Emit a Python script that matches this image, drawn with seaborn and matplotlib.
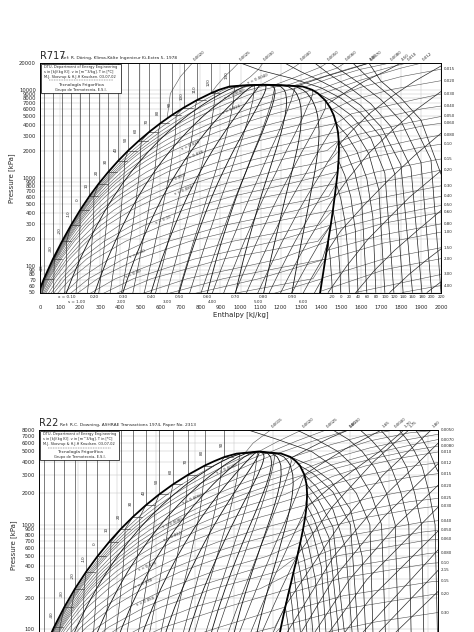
import numpy as np
import pandas as pd
import matplotlib
matplotlib.use("Agg")
import matplotlib.pyplot as plt
from matplotlib.patches import Rectangle
import seaborn as sns

# ---------------- R717 (ammonia) saturation table ----------------
nh3_T = [-50, -40, -30, -20, -10, 0, 10, 20, 30, 40, 50, 60, 70, 80, 90, 100, 110, 120, 125, 130, 131, 132, 132.3]
nh3_p = [40.8, 71.7, 119.5, 190.2, 290.7, 429.4, 615.1, 857.5, 1167, 1555, 2033, 2614, 3312, 4141, 5116,
         6255, 7574, 9094, 9930, 10828, 11010, 11230, 11333]
nh3_hf = [-24, 20, 64, 110, 155, 200, 246, 293, 341, 390, 440, 492, 545, 600, 657, 718, 782, 853, 893, 945, 985, 1035, 1119]
nh3_hg = [1391, 1408, 1423, 1437, 1450, 1461, 1470, 1478, 1485, 1489, 1491, 1490, 1486, 1477, 1465, 1447, 1422,
          1385, 1357, 1310, 1262, 1205, 1119]
nh3_sf = [0.10, 0.29, 0.47, 0.66, 0.83, 1.00, 1.17, 1.33, 1.49, 1.65, 1.81, 1.96, 2.12, 2.28, 2.44, 2.60, 2.77,
          2.96, 3.06, 3.19, 3.29, 3.42, 3.62]
nh3_sg = [6.44, 6.24, 6.06, 5.90, 5.75, 5.62, 5.49, 5.37, 5.26, 5.16, 5.06, 4.96, 4.86, 4.76, 4.66, 4.56, 4.44,
          4.31, 4.22, 4.09, 3.98, 3.84, 3.62]
nh3_vf = [0.00142, 0.00145, 0.00148, 0.00150, 0.00153, 0.00157, 0.00160, 0.00164, 0.00168, 0.00173, 0.00178,
          0.00183, 0.00190, 0.00198, 0.00207, 0.00218, 0.00231, 0.00250, 0.00263, 0.00285, 0.00290, 0.00330, 0.00425]
nh3_vg = [2.625, 1.552, 0.963, 0.624, 0.419, 0.290, 0.205, 0.149, 0.111, 0.0833, 0.0635, 0.0490, 0.0381, 0.0299,
          0.0236, 0.0187, 0.0147, 0.0114, 0.0098, 0.0077, 0.0070, 0.0056, 0.00425]

nh3_quality = [0.1, 0.2, 0.3, 0.4, 0.5, 0.6, 0.7, 0.8, 0.9]
nh3_dome_s = [0.25, 0.5, 0.75, 1.0, 1.25, 1.5, 1.75, 2.0, 2.25, 2.5, 2.75, 3.0, 3.25, 3.5, 3.75, 4.0, 4.25,
              4.5, 4.75, 5.0, 5.25, 5.5, 5.75, 6.0, 6.25]
nh3_dome_v = [0.0030, 0.0040, 0.0050, 0.0060, 0.0080, 0.010, 0.012, 0.015, 0.020, 0.025, 0.030, 0.040, 0.050,
              0.060, 0.080, 0.10, 0.12, 0.15, 0.20, 0.25, 0.30, 0.40, 0.50, 0.60, 0.80, 1.0, 1.2, 1.5, 2.0]
nh3_dome_v_lab = [0.0040, 0.0060, 0.010, 0.020, 0.030, 0.050, 0.080, 0.15, 0.30, 0.50, 0.80, 1.5]

# superheated isotherms (T, h list, p list)
nh3_sh_T = [-20, 0, 20, 40, 60, 80, 100, 120, 140, 160, 180, 200, 220, 240]
nh3_sh_T_h = [[1437, 1447, 1455, 1458],
              [1461, 1474, 1487, 1497, 1500],
              [1478, 1500, 1520, 1535, 1543],
              [1489, 1520, 1550, 1573, 1586],
              [1490, 1530, 1570, 1605, 1630],
              [1477, 1530, 1580, 1630, 1660, 1675],
              [1447, 1500, 1570, 1640, 1690, 1720],
              [1385, 1450, 1550, 1650, 1720, 1765],
              [1000, 1100, 1250, 1400, 1500, 1600, 1700, 1770, 1811],
              [1220, 1300, 1400, 1500, 1600, 1700, 1800, 1858],
              [1370, 1450, 1550, 1650, 1750, 1850, 1905],
              [1450, 1500, 1600, 1700, 1800, 1900, 1953],
              [1560, 1650, 1750, 1850, 1950, 2000],
              [1640, 1700, 1800, 1900, 2000]]
nh3_sh_T_p = [[190, 125, 70, 50],
              [429, 300, 175, 80, 50],
              [857, 580, 330, 150, 50],
              [1555, 1070, 610, 250, 50],
              [2614, 1880, 1150, 510, 50],
              [4141, 3050, 2010, 980, 360, 50],
              [6255, 5050, 3460, 1870, 730, 50],
              [9094, 7540, 5150, 2800, 1130, 50],
              [20000, 16500, 13500, 10500, 8000, 5400, 2900, 1100, 50],
              [20000, 16000, 12500, 9500, 6600, 3800, 1400, 50],
              [20000, 14500, 10300, 6900, 3800, 1300, 50],
              [20000, 16500, 11500, 7700, 4400, 1500, 50],
              [20000, 12800, 8300, 4700, 1600, 50],
              [20000, 12500, 8000, 4500, 1100]]

# superheated isentropes
nh3_sh_s = [4.0, 4.5, 5.0, 5.5, 6.0, 6.5, 7.0, 7.5, 8.0]
nh3_sh_s_h = [[1280, 1420, 1560, 1640],
              [1435, 1530, 1620, 1720, 1800],
              [1491, 1560, 1650, 1760, 1870, 2000],
              [1469, 1540, 1640, 1760, 1880, 2000],
              [1427, 1500, 1620, 1740, 1870, 2000],
              [1437, 1530, 1635, 1750, 1842, 2000],
              [1575, 1670, 1768, 1880, 2000],
              [1744, 1840, 1930, 2000],
              [1930, 2000]]
nh3_sh_s_p = [[10950, 14000, 17500, 20000],
              [6900, 9500, 12500, 16000, 20000],
              [2370, 3500, 5500, 8500, 12500, 18500],
              [595, 1000, 1900, 3500, 6000, 9500],
              [140, 250, 500, 950, 1800, 3200],
              [50, 100, 200, 370, 600, 1200],
              [50, 90, 150, 250, 425],
              [50, 80, 118, 156],
              [50, 66]]

# superheated / supercritical isochores
nh3_sh_v = [0.0020, 0.0025, 0.0030, 0.0040, 0.0050, 0.0060, 0.0070, 0.0080, 0.010, 0.012, 0.015, 0.020, 0.030,
            0.040, 0.050, 0.060, 0.080, 0.10, 0.15, 0.20, 0.30, 0.40, 0.50, 0.60, 0.80, 1.0, 1.5, 2.0, 3.0, 4.0]
nh3_sh_v_h = [[634, 650, 700, 760],
              [853, 880, 920, 960, 990],
              [992, 1000, 1050, 1090, 1112],
              [1100, 1180, 1260, 1297],
              [1170, 1280, 1400, 1431],
              [1230, 1350, 1480, 1521],
              [1262, 1400, 1550, 1646],
              [1320, 1450, 1600, 1746],
              [1368, 1550, 1750, 1830],
              [1393, 1600, 1800, 1905],
              [1425, 1600, 1800, 2000],
              [1453, 1560, 1750, 2000],
              [1477, 1553, 1763, 1874, 2000],
              [1487, 1588, 1803, 1908, 2000],
              [1490, 1585, 1848, 2000],
              [1491, 1645, 1911, 2000],
              [1490, 1631, 1883, 2000],
              [1486, 1644, 1898, 2000],
              [1478, 1670, 1977, 2000],
              [1471, 1682, 1986, 2000],
              [1460, 1695, 2000],
              [1451, 1701, 2000],
              [1445, 1705, 2000],
              [1438, 1707, 2000],
              [1430, 1710, 2000],
              [1422, 1714, 2000],
              [1408, 1718, 2000],
              [1404, 1720, 2000],
              [1574, 2000],
              [1806, 2000]]
nh3_sh_v_p = [[4700, 9000, 14000, 20000],
              [9094, 11000, 14000, 17000, 20000],
              [11010, 11500, 14000, 17000, 20000],
              [11330, 14000, 17500, 20000],
              [11280, 14000, 18000, 20000],
              [11150, 13800, 17500, 20000],
              [11010, 13700, 17500, 20000],
              [10650, 13500, 17000, 20000],
              [9600, 13500, 18000, 20000],
              [8770, 12800, 17500, 20000],
              [7440, 10600, 14000, 17000],
              [5900, 7600, 10000, 12600],
              [4141, 5306, 6773, 7740, 8900],
              [3160, 4220, 5367, 6062, 6500],
              [2550, 3094, 4250, 4950],
              [2170, 2877, 3880, 4150],
              [1630, 2048, 2743, 3050],
              [1270, 1690, 2215, 2400],
              [857, 1153, 1603, 1630],
              [640, 870, 1203, 1215],
              [415, 589, 810],
              [300, 448, 615],
              [250, 357, 485],
              [197, 303, 405],
              [150, 225, 300],
              [117, 182, 242],
              [73, 121, 161],
              [52, 91, 121],
              [50, 80],
              [50, 60]]

nh3_yticks = [50, 60, 70, 80, 90, 100, 200, 300, 400, 500, 600, 700, 800, 900, 1000,
              2000, 3000, 4000, 5000, 6000, 7000, 8000, 9000, 10000, 20000]
nh3_xticks = list(range(0, 2001, 100))

# ---------------- R22 saturation table ----------------
r22_T = [-55, -50, -40, -30, -20, -10, 0, 10, 20, 30, 40, 50, 60, 70, 80, 85, 90, 94, 96.1]
r22_p = [49.5, 64.5, 105.0, 163.9, 244.8, 354.3, 497.6, 680.7, 909.9, 1191, 1533, 1942, 2427, 2996, 3657,
         4030, 4424, 4760, 4990]
r22_hf = [139.9, 145.0, 155.4, 166.1, 177.0, 188.4, 200.0, 211.9, 224.1, 236.7, 249.8, 263.4, 277.8, 293.3,
          310.2, 320.0, 330.6, 343.0, 366.0]
r22_hg = [381.9, 384.2, 388.6, 393.1, 397.5, 401.6, 405.4, 408.6, 411.4, 413.6, 415.0, 415.5, 414.9, 412.7,
          408.1, 404.0, 398.4, 389.0, 366.0]
r22_sf = [0.755, 0.778, 0.824, 0.869, 0.913, 0.957, 1.000, 1.043, 1.085, 1.127, 1.170, 1.213, 1.257, 1.302,
          1.351, 1.379, 1.408, 1.442, 1.505]
r22_sg = [1.864, 1.850, 1.824, 1.802, 1.784, 1.767, 1.752, 1.738, 1.724, 1.711, 1.697, 1.683, 1.668, 1.650,
          1.628, 1.613, 1.595, 1.567, 1.505]
r22_vf = [0.00069, 0.00070, 0.00071, 0.00072, 0.00074, 0.00076, 0.00078, 0.00080, 0.00082, 0.00085, 0.00088,
          0.00092, 0.00097, 0.00103, 0.00111, 0.00116, 0.00123, 0.00137, 0.00191]
r22_vg = [0.418, 0.325, 0.2056, 0.1355, 0.0926, 0.0653, 0.0471, 0.0347, 0.0260, 0.0198, 0.0151, 0.0116,
          0.0090, 0.0069, 0.0053, 0.0046, 0.0039, 0.0031, 0.00191]

r22_quality = [0.1, 0.2, 0.3, 0.4, 0.5, 0.6, 0.7, 0.8, 0.9]
r22_dome_s = [0.80, 0.85, 0.90, 0.95, 1.00, 1.05, 1.10, 1.15, 1.20, 1.25, 1.30, 1.35, 1.40, 1.45, 1.50,
              1.55, 1.60, 1.65, 1.70, 1.75, 1.80, 1.85]
r22_dome_v = [0.0015, 0.0020, 0.0025, 0.0030, 0.0040, 0.0050, 0.0060, 0.0070, 0.0080, 0.010, 0.012, 0.015,
              0.020, 0.025, 0.030, 0.040, 0.050, 0.060, 0.080, 0.10, 0.15, 0.20, 0.30]
r22_dome_v_lab = [0.0030, 0.0050, 0.0080, 0.012, 0.020, 0.030, 0.050, 0.080, 0.15]

r22_sh_T = [-30, -20, -10, 0, 10, 20, 30, 40, 50, 60, 70, 80, 90, 100, 120, 140, 160, 180, 200, 220]
r22_sh_T_h = [[393.1, 396, 398],
              [397.5, 400, 402, 404],
              [401.6, 404, 408, 411],
              [405.4, 409, 413, 418],
              [408.6, 413, 418, 424],
              [411.4, 417, 424, 431],
              [413.6, 421, 430, 437],
              [415.0, 423, 434, 444],
              [415.5, 425, 438, 451],
              [414.9, 426, 442, 457],
              [412.7, 425, 442, 455, 464],
              [408.1, 422, 442, 460, 470],
              [398.4, 418, 440, 460, 472, 477],
              [355, 385, 420, 444, 466, 480, 484],
              [405, 425, 447, 465, 481, 492, 497],
              [442, 458, 472, 485, 497, 506, 510],
              [470, 481, 492, 502, 512, 520, 523],
              [491, 500, 509, 518, 526, 533, 536],
              [510, 518, 526, 534, 541, 547, 550],
              [527, 534, 541, 548, 554]]
r22_sh_T_p = [[163.9, 110, 50],
              [244.8, 170, 100, 50],
              [354.3, 240, 110, 50],
              [497.6, 330, 160, 50],
              [680.7, 450, 220, 50],
              [909.9, 620, 300, 50],
              [1191, 850, 400, 50],
              [1533, 1100, 550, 50],
              [1942, 1400, 750, 50],
              [2427, 1800, 950, 50],
              [2996, 2300, 1400, 600, 50],
              [3657, 3050, 2050, 1000, 50],
              [4424, 3700, 2600, 1400, 500, 50],
              [8000, 6500, 5000, 3500, 2000, 1000, 50],
              [8000, 6500, 5000, 3500, 2000, 1000, 50],
              [8000, 6500, 5000, 3500, 2000, 1000, 50],
              [8000, 6500, 5000, 3500, 2000, 1000, 50],
              [8000, 6500, 5000, 3500, 2000, 1000, 50],
              [8000, 6500, 5000, 3500, 2000, 1000, 50],
              [8000, 6500, 5000, 3500, 2700]]

r22_sh_s = [1.60, 1.65, 1.70, 1.75, 1.80, 1.85, 1.90, 1.95, 2.00, 2.05, 2.10, 2.15, 2.20]
r22_sh_s_h = [[399.5, 420, 440, 458],
              [412.7, 430, 455, 480, 492],
              [414.8, 440, 465, 490, 515],
              [405.9, 442, 484, 520],
              [393.5, 449, 494, 543],
              [384.2, 443, 498, 554],
              [392, 442, 495, 554],
              [404, 459, 508, 554],
              [417, 477, 554],
              [432, 481, 554],
              [446, 554],
              [461, 554],
              [476, 554]]
r22_sh_s_p = [[4350, 5500, 6800, 8000],
              [2996, 3800, 5300, 7000, 8000],
              [1460, 2300, 3400, 5000, 8000],
              [520, 1500, 4000, 8000],
              [170, 1000, 3000, 8000],
              [64.5, 500, 2000, 6500],
              [50, 300, 1200, 4150],
              [50, 300, 1000, 2580],
              [50, 300, 1600],
              [50, 200, 945],
              [50, 630],
              [50, 400],
              [50, 250]]

r22_sh_v = [0.0015, 0.0020, 0.0025, 0.0030, 0.0040, 0.0050, 0.0060, 0.0070, 0.0080, 0.010, 0.012, 0.015,
            0.020, 0.025, 0.030, 0.040, 0.050, 0.060, 0.080, 0.10, 0.15, 0.20, 0.30]
r22_sh_v_h = [[352, 360, 378],
              [366, 385, 410],
              [378, 405, 435],
              [386, 420, 458],
              [399, 440, 475, 505],
              [407, 440, 480, 520, 550],
              [410.5, 440, 480, 520, 554],
              [412.8, 440, 480, 520, 554],
              [414.3, 440, 480, 520, 554],
              [415.3, 441, 475, 511, 554],
              [415.5, 440, 478, 520, 554],
              [415, 439, 477, 520, 554],
              [413.4, 438, 478, 520, 554],
              [411.7, 437, 478, 521, 554],
              [409.7, 437, 478, 525, 554],
              [406.7, 444, 531, 554],
              [404, 446, 534, 554],
              [401, 448, 537, 554],
              [398.5, 450, 540, 554],
              [396, 452, 542, 554],
              [391.8, 453, 543, 554],
              [388.8, 455, 545, 554],
              [385.5, 486, 554]]
r22_sh_v_p = [[4870, 6000, 8000],
              [4990, 6200, 8000],
              [4950, 6300, 8000],
              [4800, 6200, 8000],
              [4385, 5800, 7100, 8000],
              [3800, 4800, 6300, 7500, 8000],
              [3350, 4250, 5400, 6500, 7400],
              [2965, 3700, 4700, 5700, 6600],
              [2680, 3350, 4200, 5050, 5700],
              [2200, 2870, 3625, 4316, 5000],
              [1900, 2400, 3000, 3580, 3950],
              [1545, 1903, 2385, 2823, 3100],
              [1160, 1420, 1780, 2120, 2350],
              [950, 1128, 1392, 1657, 1800],
              [770, 950, 1180, 1410, 1520],
              [565, 745, 1046, 1100],
              [425, 600, 850, 890],
              [336, 507, 708, 730],
              [270, 385, 530, 545],
              [220, 311, 427, 435],
              [145, 210, 285, 290],
              [107, 158, 216, 219],
              [75, 118, 147]]

r22_yticks = [100, 200, 300, 400, 500, 600, 700, 800, 900, 1000,
              2000, 3000, 4000, 5000, 6000, 7000, 8000]
r22_xticks = list(range(140, 551, 40))

box_lines = ["DTU, Department of Energy Engineering",
             "s in [kJ/(kg K)]. v in [m^3/kg]. T in [\u00baC]",
             "M.J. Skovrup & H.J.H Knudsen. 03-07-02"]
box_lines2 = ["Tecnolog\u00eda Frigor\u00edfica", "Grupo de Termotecnia, E.S.I."]


def dome_family(hf, hg, p, a_liq, a_vap, values):
    # lines of constant property inside the two-phase region
    hf, hg, p = np.asarray(hf, float), np.asarray(hg, float), np.asarray(p, float)
    a_liq, a_vap = np.asarray(a_liq, float), np.asarray(a_vap, float)
    out = []
    for val in values:
        with np.errstate(divide="ignore", invalid="ignore"):
            x = (val - a_liq) / (a_vap - a_liq)
        ok = np.isfinite(x) & (x >= 0) & (x <= 1)
        if not ok.any():
            continue
        idx = np.where(ok)[0]
        lo, hi = max(idx[0] - 1, 0), min(idx[-1] + 1, len(p) - 1)
        xs = np.clip(np.nan_to_num(x[lo:hi + 1], nan=1.0, posinf=1.0, neginf=0.0), 0, 1)
        h = hf[lo:hi + 1] + xs * (hg[lo:hi + 1] - hf[lo:hi + 1])
        out.append((val, h, p[lo:hi + 1], xs))
    return out


def quality_family(hf, hg, p, values):
    hf, hg, p = np.asarray(hf, float), np.asarray(hg, float), np.asarray(p, float)
    return [(q, hf + q * (hg - hf), p) for q in values]


def draw(ax, curves, color, lw, z=2):
    rows = []
    for i, (h, p) in enumerate(curves):
        rows += [(i, hh, pp) for hh, pp in zip(h, p)]
    df = pd.DataFrame(rows, columns=["line", "h", "p"])
    sns.lineplot(data=df, x="h", y="p", units="line", estimator=None, sort=False,
                 color=color, lw=lw, ax=ax, legend=False, zorder=z)


def fmt_v(v):
    return f"{v:.4f}" if v < 0.01 else (f"{v:.3f}" if v < 0.1 else f"{v:.2f}")


def edge_labels(ax, vals, hs, ps, xlim, ylim, fmt, used, pmin_vis):
    # label lines where they leave the diagram (right edge or top edge)
    lmin, lmax = np.log10(ylim[0]), np.log10(ylim[1])
    for val, h, p in zip(vals, hs, ps):
        if h[-1] >= xlim[1]:
            pe = 10 ** np.interp(xlim[1], h, np.log10(p))
            yf = (np.log10(pe) - lmin) / (lmax - lmin)
            if yf < 0.02 or pe < pmin_vis or any(abs(yf - u) < 0.022 for u in used):
                continue
            used.append(yf)
            ax.annotate(fmt(val), (xlim[1], pe), xytext=(2, 0), textcoords="offset points",
                        fontsize=2.9, va="center", ha="left", annotation_clip=False)
        elif p[-1] >= ylim[1]:
            ax.annotate(fmt(val), (h[-1], ylim[1]), xytext=(0, 1), textcoords="offset points",
                        fontsize=2.9, va="bottom", ha="left", rotation=40, annotation_clip=False)


def diagram(ax, T, p, hf, hg, sf, sg, vf, vg, quality, dome_s, dome_v, v_lab,
            sh_T, sh_T_h, sh_T_p, sh_s, sh_s_h, sh_s_p, sh_v, sh_v_h, sh_v_p,
            xlim, ylim, xticks, yticks, stub, tlab_dx, name, ref, bottom_text, pmin_vis):
    # grid
    for yt in yticks:
        ax.axhline(yt, color="#c4c4c4", lw=0.35, zorder=0)
    for xt in xticks:
        ax.axvline(xt, color="#c4c4c4", lw=0.35, zorder=0)

    q_lines = quality_family(hf, hg, p, quality)
    s_lines = dome_family(hf, hg, p, sf, sg, dome_s)
    v_lines = dome_family(hf, hg, p, vf, vg, dome_v)

    draw(ax, [(h, pp) for _, h, pp, _ in v_lines], "#555555", 0.4, 1)
    draw(ax, list(zip(sh_v_h, sh_v_p)), "#555555", 0.4, 1)
    draw(ax, [(h, pp) for _, h, pp, _ in s_lines], "#2a2a2a", 0.45, 2)
    draw(ax, list(zip(sh_s_h, sh_s_p)), "#2a2a2a", 0.5, 2)
    draw(ax, [(h, pp) for _, h, pp in q_lines], "#111111", 0.6, 2)
    draw(ax, list(zip(sh_T_h, sh_T_p)), "#1e1e1e", 0.5, 2)

    # subcooled isotherms and short two-phase stubs
    sub = []
    for t, pp, h in zip(T, p, hf):
        if t % 10 == 0 and pp >= ylim[0] and t < T[-1] - 2:
            sub.append(([h, h], [pp, ylim[1]]))
            sub.append(([h, h + stub], [pp, pp]))
            if pp * 1.33 > pmin_vis:
                ax.text(h - tlab_dx, pp * 1.33, f"{t:g}", fontsize=3, rotation=90,
                        ha="center", va="center", zorder=4)
    draw(ax, sub, "#333333", 0.45, 2)

    # saturation dome
    dome_h = list(hf) + list(hg[::-1])
    dome_p = list(p) + list(p[::-1])
    draw(ax, [(dome_h, dome_p)], "black", 1.3, 5)

    # isochore labels inside the dome
    for val, h, pp, xs in v_lines:
        if val in v_lab:
            k = int(np.argmin(np.abs(xs - 0.33)))
            if max(ylim[0] * 1.2, pmin_vis) < pp[k] < ylim[1]:
                ax.text(h[k], pp[k], "v = " + fmt_v(val), fontsize=2.8, rotation=22,
                        ha="center", va="bottom", zorder=4)

    used = []
    edge_labels(ax, sh_v, sh_v_h, sh_v_p, xlim, ylim, fmt_v, used, pmin_vis)
    edge_labels(ax, sh_s, sh_s_h, sh_s_p, xlim, ylim, lambda s: f"{s:.2f}", used, pmin_vis)

    ax.set_yscale("log")
    ax.set_xlim(*xlim)
    ax.set_ylim(*ylim)
    ax.set_yticks(yticks)
    ax.set_yticklabels([str(v) for v in yticks])
    ax.yaxis.set_minor_locator(matplotlib.ticker.NullLocator())
    ax.set_xticks(xticks)
    ax.tick_params(axis="y", labelsize=3.8, length=2, width=0.4, pad=1)
    ax.tick_params(axis="x", labelsize=3.8, length=2, width=0.4, pad=7)
    for sp in ax.spines.values():
        sp.set_linewidth(0.7)
        sp.set_color("black")
    ax.set_ylabel("Pressure [kPa]", fontsize=5, labelpad=3)

    if bottom_text:
        ax.set_xticklabels([str(v) for v in xticks])
        ax.set_xlabel("Enthalpy [kJ/kg]", fontsize=5, labelpad=1)
        # bottom row labels: quality, entropy, temperature
        bt = ax.get_xaxis_transform()
        ly = np.log10(ylim[0])
        for i, (q, h, pp) in enumerate(q_lines):
            hb = np.interp(ly, np.log10(pp), h)
            ax.text(hb, -0.012, ("x = " if i == 0 else "") + f"{q:.2f}", transform=bt,
                    fontsize=3, ha="center", va="top")
        for val, h, pp, xs in s_lines:
            if abs(val - round(val)) < 1e-9 and pp[0] <= ylim[0]:
                hb = np.interp(ly, np.log10(pp), h)
                ax.text(hb, -0.032, ("s = " if val == 1.0 else "") + f"{val:.2f}", transform=bt,
                        fontsize=3, ha="center", va="top")
        for t, h, pp in zip(sh_T, sh_T_h, sh_T_p):
            if pp[-1] <= ylim[0] and h[-1] <= xlim[1]:
                ax.text(h[-1], -0.012, f"{t:g}", transform=bt, fontsize=2.9, ha="center", va="top")
    else:
        ax.set_xticklabels([])
        ax.set_xlabel("")

    # header and info box
    ax.text(0.0, 1.008, name, transform=ax.transAxes, fontsize=7, ha="left", va="bottom")
    ax.text(0.052, 1.012, ref, transform=ax.transAxes, fontsize=3.2, ha="left", va="bottom")
    bx, by, bw, bh = 0.003, 0.868, 0.198, 0.129
    ax.add_patch(Rectangle((bx, by), bw, bh, transform=ax.transAxes, fc="white",
                           ec="black", lw=0.5, zorder=8))
    for j, s in enumerate(box_lines):
        ax.text(bx + 0.006, by + bh - 0.014 - j * 0.022, s, transform=ax.transAxes,
                fontsize=2.6, ha="left", va="center", zorder=9)
    ax.plot([bx + 0.02, bx + bw - 0.02], [by + 0.056, by + 0.056], transform=ax.transAxes,
            color="black", lw=0.3, ls=(0, (2, 2)), zorder=9)
    ax.text(bx + bw / 2, by + 0.036, box_lines2[0], transform=ax.transAxes, fontsize=3.2,
            ha="center", va="center", zorder=9)
    ax.text(bx + bw / 2, by + 0.015, box_lines2[1], transform=ax.transAxes, fontsize=2.6,
            ha="center", va="center", zorder=9)


sns.set_style("white")
plt.rcParams["font.family"] = ["DejaVu Sans"]
fig = plt.figure(figsize=(4.74, 6.32), dpi=100)
ax1 = fig.add_axes([40 / 474, 1 - 292.5 / 632, 401 / 474, 229.5 / 632])
ax2 = fig.add_axes([39 / 474, 1 - 661 / 632, 399 / 474, 231 / 632])

diagram(ax1, nh3_T, np.array(nh3_p), np.array(nh3_hf, float), np.array(nh3_hg, float),
        nh3_sf, nh3_sg, nh3_vf, nh3_vg, nh3_quality, nh3_dome_s, nh3_dome_v, nh3_dome_v_lab,
        nh3_sh_T, nh3_sh_T_h, nh3_sh_T_p, nh3_sh_s, nh3_sh_s_h, nh3_sh_s_p,
        nh3_sh_v, nh3_sh_v_h, nh3_sh_v_p,
        (0, 2000), (50, 20000), nh3_xticks, nh3_yticks, 45, 12, "R717",
        "Ref: R. D\u00f6ring, Klima-K\u00e4lte Ingenieur Ki-Extra 5, 1978", True, 50)

diagram(ax2, r22_T, np.array(r22_p), np.array(r22_hf, float), np.array(r22_hg, float),
        r22_sf, r22_sg, r22_vf, r22_vg, r22_quality, r22_dome_s, r22_dome_v, r22_dome_v_lab,
        r22_sh_T, r22_sh_T_h, r22_sh_T_p, r22_sh_s, r22_sh_s_h, r22_sh_s_p,
        r22_sh_v, r22_sh_v_h, r22_sh_v_p,
        (140, 550), (50, 8000), r22_xticks, r22_yticks, 9, 2.5, "R22",
        "Ref: R.C. Downing, ASHRAE Transactions 1974, Paper No. 2313", False, 112)

fig.savefig("out.png", dpi=100, facecolor="white")
